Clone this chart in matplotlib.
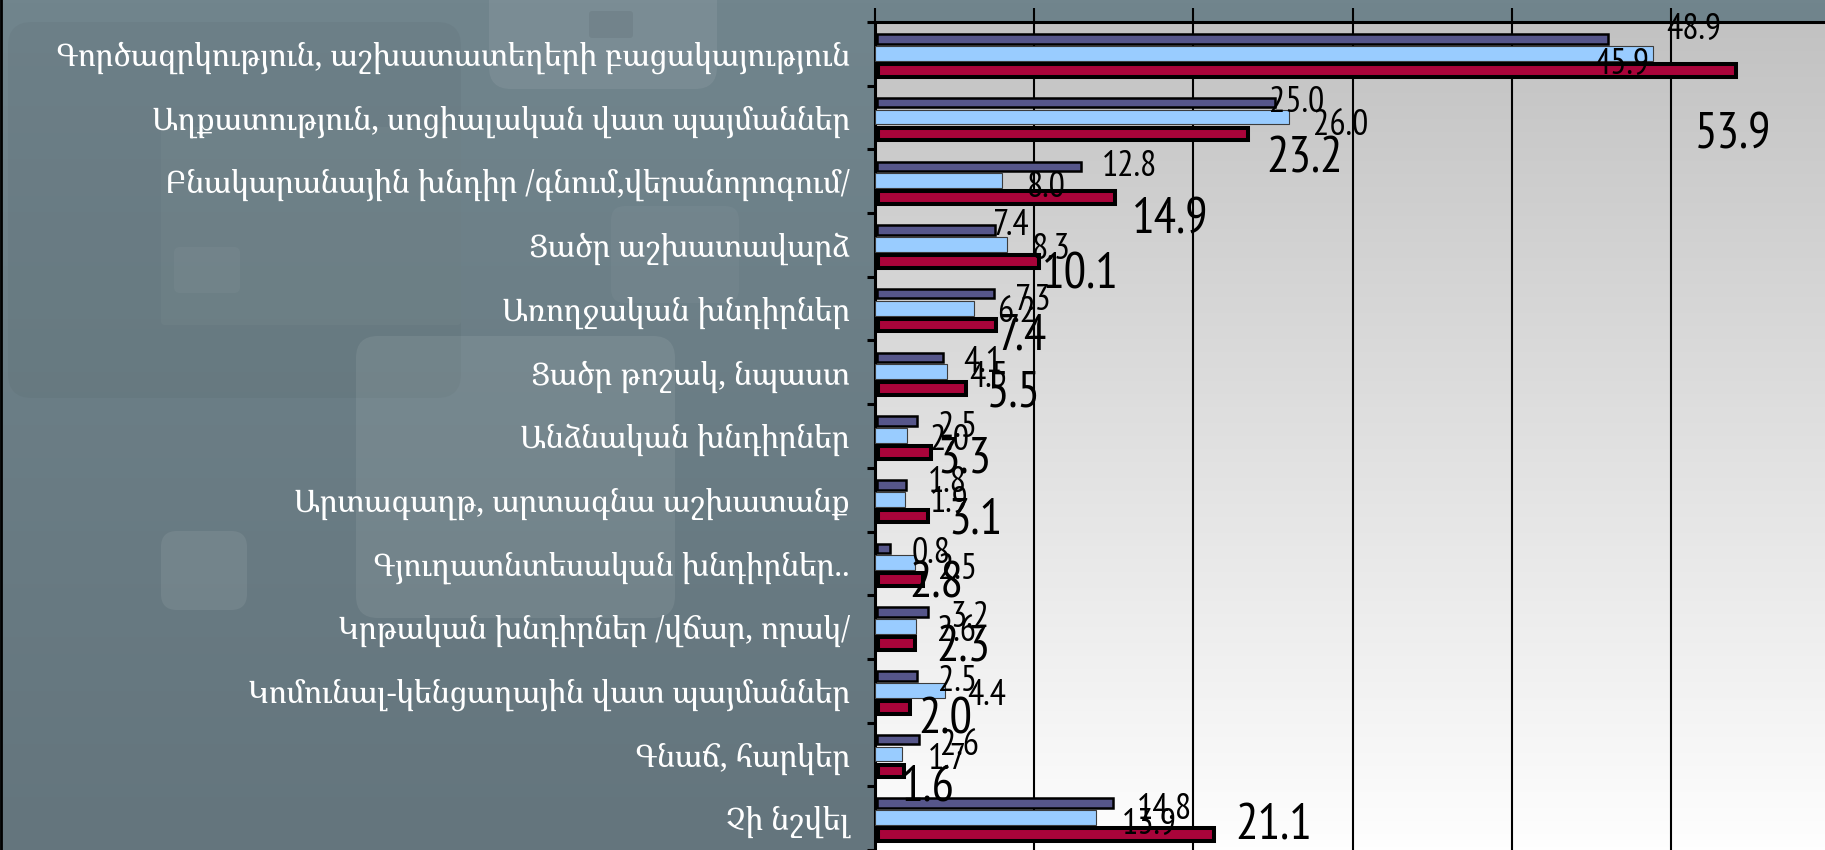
import matplotlib
matplotlib.use("Agg")
import matplotlib.pyplot as plt
import numpy as np
from matplotlib import font_manager
from matplotlib.colors import LinearSegmentedColormap
from matplotlib.ft2font import FT2Font
from matplotlib.patches import FancyBboxPatch

categories = [
    "Գործազրկություն, աշխատատեղերի բացակայություն",
    "Աղքատություն, սոցիալական վատ պայմաններ",
    "Բնակարանային խնդիր /գնում,վերանորոգում/",
    "Ցածր աշխատավարձ",
    "Առողջական խնդիրներ",
    "Ցածր թոշակ, նպաստ",
    "Անձնական խնդիրներ",
    "Արտագաղթ, արտագնա աշխատանք",
    "Գյուղատնտեսական խնդիրներ..",
    "Կրթական խնդիրներ /վճար, որակ/",
    "Կոմունալ-կենցաղային վատ պայմաններ",
    "Գնաճ, հարկեր",
    "Չի նշվել",
]
dark_vals = [45.9, 25.0, 12.8, 7.4, 7.3, 4.1, 2.5, 1.8, 0.8, 3.2, 2.5, 2.6, 14.8]
light_vals = [48.9, 26.0, 8.0, 8.3, 6.2, 4.5, 2.0, 1.9, 2.5, 2.6, 4.4, 1.7, 13.9]
red_vals = [53.9, 23.2, 14.9, 10.1, 7.4, 5.5, 3.3, 3.1, 2.8, 2.3, 2.0, 1.6, 21.1]

# value labels were nudged around in the source chart: pixel offsets from bar end / bar centre
dark_dx = [-11, -4, 23, 0, 24, 23, 23, 24, 24, 24, 23, 24, 26]
dark_dy = [21, -3, -3, -8, 3, 2, 3, -6, 2, 2, 2, 3, 3]
light_dx = [13, 24, 25, 25, 23, 23, 23, 25, 23, 21, 22, 26, 26]
light_dy = [-28, 5, 3, 2, 1, 2, 2, -1, 3, 2, 2, 2, 3]
red_dx = [-38, 22, 20, 6, 4, 24, 10, 24, -10, 25, 11, 0, 24]
red_dy = [60, 21, 18, 9, 7, 0, 2, 0, 0, 0, 9, 12, -13]


def pick_font(names, need=None):
    """First installed family in names (optionally one that has the glyph `need`)."""
    for name in names:
        try:
            path = font_manager.findfont(name, fallback_to_default=False)
        except ValueError:
            continue
        if need is not None:
            try:
                if ord(need) not in FT2Font(path).get_charmap():
                    continue
            except Exception:
                continue
        return name
    return "DejaVu Sans"


value_font = pick_font(["Liberation Sans Narrow", "Arial Narrow", "PT Sans Narrow",
                        "Archivo Narrow", "Roboto Condensed", "Liberation Sans"])
label_font = pick_font(["Noto Serif Armenian", "DejaVu Serif", "DejaVu Sans"], need="Գ")

W, H = 1825, 850
fig = plt.figure(figsize=(W / 100, H / 100), dpi=100)

# slate background with the faded question-mark decoration
bg = fig.add_axes([0, 0, 1, 1], zorder=0)
bg_cmap = LinearSegmentedColormap.from_list("bg", ["#71858d", "#64757d"])
bg.imshow(np.linspace(0, 1, 256).reshape(-1, 1), cmap=bg_cmap, aspect="auto",
          extent=[0, W, H, 0])
shapes = [
    (8, 22, 453, 376, "black", 0.03, 24),
    (161, 127, 300, 198, "white", 0.03, 4),
    (174, 247, 66, 46, "white", 0.035, 6),
    (356, 336, 319, 282, "white", 0.08, 22),
    (161, 531, 86, 79, "white", 0.08, 16),
    (489, -30, 228, 119, "white", 0.07, 22),
    (589, 11, 44, 27, "black", 0.06, 3),
    (611, 206, 128, 97, "white", 0.035, 14),
]
for x, y, w, h, c, a, r in shapes:
    bg.add_patch(FancyBboxPatch((x, y), w, h, boxstyle=f"round,pad=0,rounding_size={r}",
                                fc=c, ec="none", alpha=a))
bg.axvline(1, color="black", lw=2)
bg.set_xlim(0, W)
bg.set_ylim(H, 0)
bg.axis("off")

# plot area
top_px, left_px, px_per_unit, band_px = 22, 875, 15.92, 64
ax = fig.add_axes([left_px / W, 0, (W - left_px) / W, (H - top_px) / H], zorder=1)
ax.patch.set_visible(False)
grad = LinearSegmentedColormap.from_list("pa", ["#c2c2c2", "#fefefe"])
ax.imshow(np.linspace(0, 1, 256).reshape(-1, 1), cmap=grad, aspect="auto",
          extent=[0, 1, 0, 1], transform=ax.transAxes, zorder=0, origin="upper")

idx = np.arange(len(categories))
ax.barh(idx - 0.234, dark_vals, left=0.15, height=0.15, color="#56568a",
        edgecolor="black", linewidth=1.8, zorder=3)
ax.barh(idx - 0.008, light_vals, height=0.234, color="#99ccff",
        edgecolor="#3c3c3c", linewidth=0.8, zorder=3)
ax.barh(idx + 0.258, red_vals, left=0.2, height=0.2, color="#a9043a",
        edgecolor="black", linewidth=2.9, zorder=3)

series = [
    (dark_vals, idx - 0.234, dark_dx, dark_dy, 26),
    (light_vals, idx - 0.008, light_dx, light_dy, 26),
    (red_vals, idx + 0.258, red_dx, red_dy, 36),
]
for vals, ys, dxs, dys, size in series:
    em = size * 100 / 72
    for v, y, dx, dy in zip(vals, ys, dxs, dys):
        ax.annotate(f"{v:.1f}", xy=(v, y), xytext=(dx, -dy - 0.355 * em),
                    textcoords="offset pixels", ha="left", va="baseline",
                    fontsize=size, family=value_font, color="black", zorder=5,
                    annotation_clip=False)

ax.set_xlim(0, (W - left_px) / px_per_unit)
ax.set_ylim(-0.5 + (H - top_px) / band_px, -0.5)

ax.xaxis.tick_top()
ax.set_xticks(np.arange(0, 60, 10))
ax.tick_params(axis="x", direction="out", length=10, width=1.5, labeltop=False,
               labelbottom=False, color="black")
ax.grid(axis="x", color="black", linewidth=1.5)
ax.set_axisbelow(True)

ax.set_yticks(np.arange(-0.5, len(categories), 1.0))
ax.set_yticklabels([])
ax.tick_params(axis="y", which="major", direction="out", length=5.5, width=2.2,
               color="black")
ax.set_yticks(idx, minor=True)
ax.set_yticklabels(categories, minor=True, fontsize=22.4, family=label_font,
                   color="white")
ax.tick_params(axis="y", which="minor", length=0, pad=18)

for side in ["right", "bottom"]:
    ax.spines[side].set_visible(False)
for side in ["left", "top"]:
    ax.spines[side].set_linewidth(2.2)
    ax.spines[side].set_color("black")

fig.savefig("out.png", dpi=100)
